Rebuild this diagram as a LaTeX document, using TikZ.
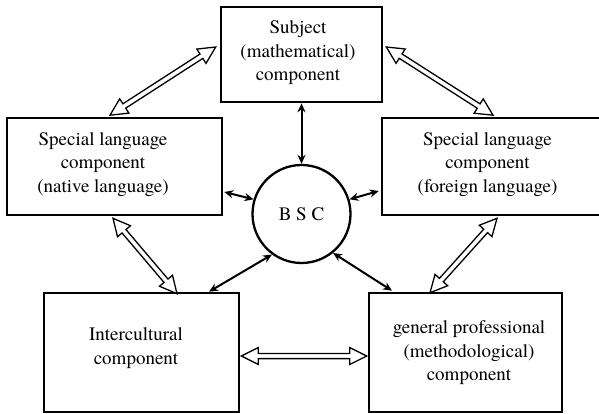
\documentclass[tikz,border=0pt]{standalone}
\usepackage{fontspec}
\setmainfont{TeX Gyre Termes}
\usetikzlibrary{calc,arrows.meta}
\newcommand{\hollowarrow}[2]{%
  \draw[hollow] (#1)
  -- ($(#1)!17pt!(#2)!8.5pt!90:(#2)$)
  -- ($(#1)!17pt!(#2)!2.6pt!90:(#2)$)
  -- ($(#2)!17pt!(#1)!2.6pt!-90:(#1)$)
  -- ($(#2)!17pt!(#1)!8.5pt!-90:(#1)$)
  -- (#2)
  -- ($(#2)!17pt!(#1)!8.5pt!90:(#1)$)
  -- ($(#2)!17pt!(#1)!2.6pt!90:(#1)$)
  -- ($(#1)!17pt!(#2)!2.6pt!-90:(#2)$)
  -- ($(#1)!17pt!(#2)!8.5pt!-90:(#2)$)
  -- cycle;}
\tikzset{
  box/.style={draw, line width=2.6pt, rectangle, inner sep=0pt},
  txt/.style={align=center, inner sep=0pt, font=\fontsize{19}{23.5}\selectfont},
  hollow/.style={draw, line width=1.3pt, fill=white, line join=miter},
  link/.style={line width=2pt, {Stealth[length=9pt,width=8pt]}-{Stealth[length=9pt,width=8pt]}}
}
\begin{document}
\begin{tikzpicture}[x=1pt,y=1pt]
\useasboundingbox (0,0) rectangle (599,413);
\clip (0,0) rectangle (599,413);
% boxes
\node[box, minimum width=161pt, minimum height=95pt] (T) at (301.5,358.5) {};
\node[box, minimum width=215pt, minimum height=97pt] (L) at (114.5,246.5) {};
\node[box, minimum width=235pt, minimum height=97pt] (R) at (499.5,246.5) {};
\node[box, minimum width=195pt, minimum height=119pt] (BL) at (141.5,60.5) {};
\node[box, minimum width=193pt, minimum height=119pt] (BR) at (465.5,60.5) {};
\node[draw, circle, line width=2.3pt, minimum size=98pt, inner sep=0pt, font=\fontsize{19}{23.5}\selectfont] (C) at (301.5,199) {B S C};
% texts
\node[txt] (Tt) at (298,360) {Subject\\(mathematical)\\component};
\node[txt] (Lt) at (103,248.7) {Special language\\component\\(native language)};
\node[txt] (Rt) at (487.5,248.7) {Special language\\component\\(foreign language)};
\node[txt] (BLt) at (136,65) {Intercultural\\component};
\node[txt] (BRt) at (469,60) {general professional\\(methodological)\\component};
% anchor coordinates for hollow arrows
\coordinate (d1a) at ($(T.west)+(-4,7.5)$);
\coordinate (d1b) at ($(L.north)+(-4.5,1.5)$);
\coordinate (d2a) at ($(T.east)+(3,7.5)$);
\coordinate (d2b) at ($(R.north)+(-6.5,1.5)$);
\coordinate (d3a) at ($(L.south)+(-1.5,-2)$);
\coordinate (d3b) at ($(BL.north)+(35.5,-2)$);
\coordinate (d4a) at ($(R.south)+(-2.5,-2)$);
\coordinate (d4b) at ($(BR.north)+(-35.5,-1)$);
\coordinate (d5a) at ($(BL.east)+(1,-3.5)$);
\coordinate (d5b) at ($(BR.west)+(-1,-3.5)$);
\hollowarrow{d1a}{d1b}
\hollowarrow{d2a}{d2b}
\hollowarrow{d3a}{d3b}
\hollowarrow{d4a}{d4b}
\hollowarrow{d5a}{d5b}
% connector arrows
\draw[link] (C.north) -- (T.south);
\draw[link] (C.163.4) -- ($(L.east)+(1,-25.5)$);
\draw[link] (C.17.7) -- ($(R.west)+(-2,-24.5)$);
\draw[link] (C.234) -- ($(BL.north)+(67.5,0)$);
\draw[link] (C.-51.3) -- ($(BR.north)+(-73.5,1)$);
\end{tikzpicture}
\end{document}
